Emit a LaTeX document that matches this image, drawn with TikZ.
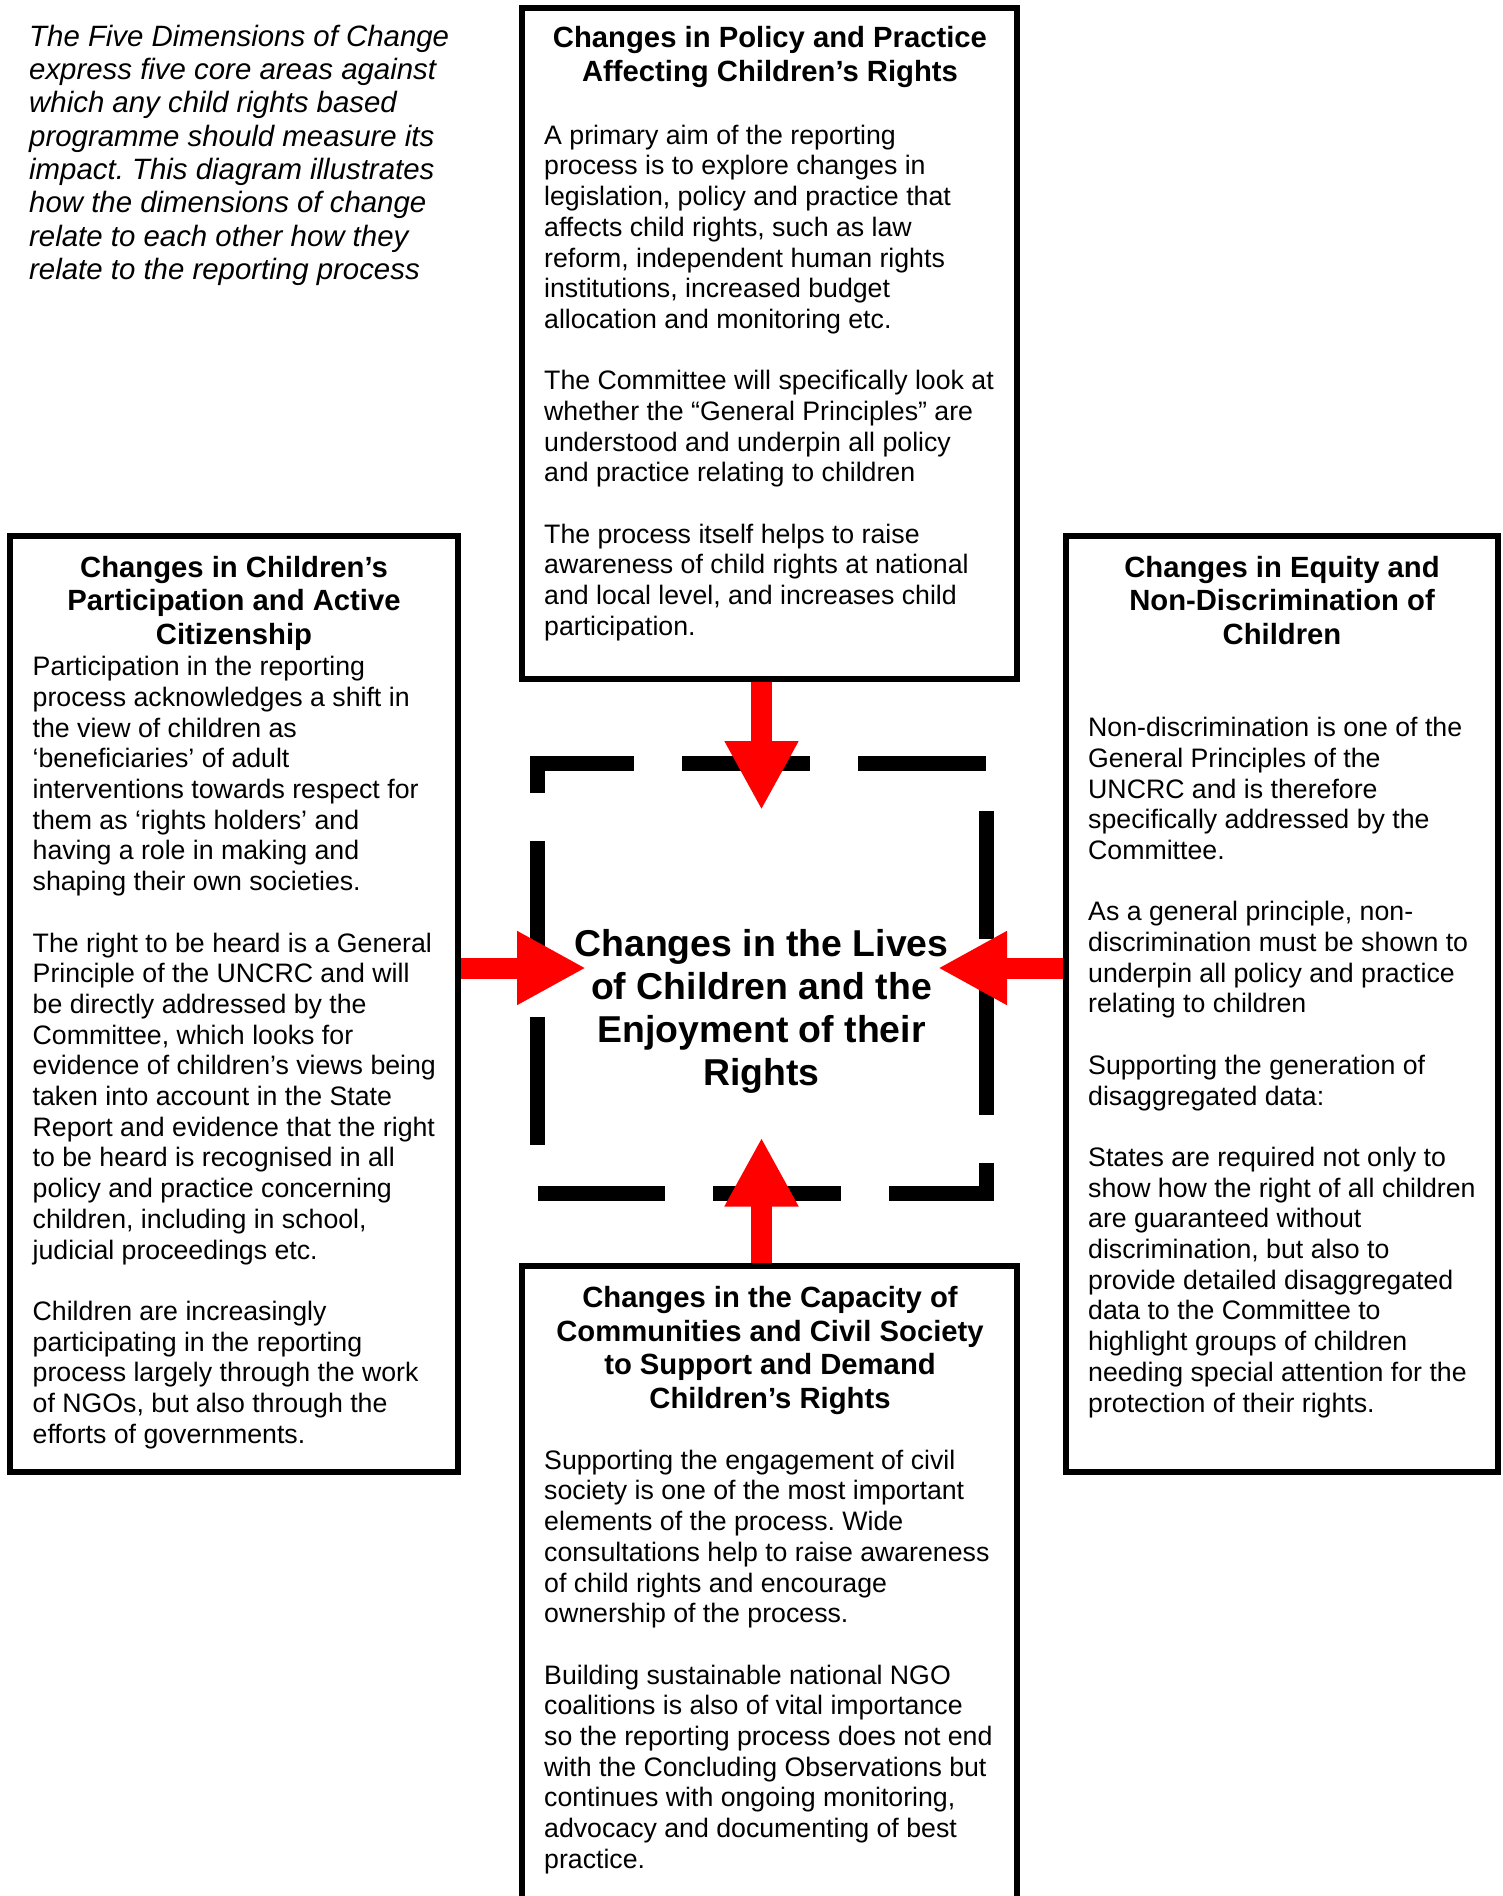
\documentclass[tikz,border=0pt]{standalone}
\usepackage{fontspec}
\setmainfont{Liberation Sans}
\usetikzlibrary{arrows.meta}
\frenchspacing

\begin{document}
\begin{tikzpicture}[x=1pt, y=-1pt,
  box/.style={draw=black, line width=6pt, rectangle, inner sep=0pt},
  bodytext/.style={anchor=north west, align=left, inner sep=0pt,
    font=\fontsize{26.7pt}{30.7pt}\selectfont},
  headtext/.style={anchor=north, align=center, inner sep=0pt,
    font=\fontsize{29.25pt}{33.7pt}\selectfont\bfseries},
  introtext/.style={anchor=north west, align=left, inner sep=0pt,
    font=\fontsize{29.4pt}{33.3pt}\selectfont\itshape},
  centretext/.style={anchor=north, align=center, inner sep=0pt,
    font=\fontsize{37.4pt}{42.8pt}\selectfont\bfseries},
  frame/.style={draw=black, line width=15pt, line cap=butt, line join=miter},
  redarrow/.style={draw=red, line width=21pt, line cap=butt,
    -{Triangle[length=69pt, width=69pt]}}
]
\useasboundingbox (0,0) rectangle (1503,1896);
\clip (0,0) rectangle (1503,1896);

% ---- introduction ----
\node[introtext] (intro) at (29,22.7) {\strut The Five Dimensions of Change\\
express five core areas against\\
which any child rights based\\
programme should measure its\\
impact. This diagram illustrates\\
how the dimensions of change\\
relate to each other how they\\
relate to the reporting process};

% ---- the four dimension boxes ----
\node[box, minimum width=495pt, minimum height=671pt] (policy) at (769.5,343.5) {};
\node[box, minimum width=448pt, minimum height=936pt] (participation) at (234,1004) {};
\node[box, minimum width=432pt, minimum height=936pt] (equity) at (1282,1004) {};
\node[box, minimum width=495pt, minimum height=694pt] (capacity) at (769.5,1613) {};

% policy and practice
\node[headtext] (policyhead) at (770,23.9) {\strut Changes in Policy and Practice\\
Affecting Children’s Rights};
\node[bodytext] (policybody) at (544,122.5) {\strut A primary aim of the reporting\\
process is to explore changes in\\
legislation, policy and practice that\\
affects child rights, such as law\\
reform, independent human rights\\
institutions, increased budget\\
allocation and monitoring etc.\\[30.7pt]
The Committee will specifically look at\\
whether the “General Principles” are\\
understood and underpin all policy\\
and practice relating to children\\[30.7pt]
The process itself helps to raise\\
awareness of child rights at national\\
and local level, and increases child\\
participation.};

% participation and active citizenship
\node[headtext] (participationhead) at (234,553.3) {\strut Changes in Children’s\\
Participation and Active\\
Citizenship};
\node[bodytext] (participationbody) at (32.5,654) {\strut Participation in the reporting\\
process acknowledges a shift in\\
the view of children as\\
‘beneficiaries’ of adult\\
interventions towards respect for\\
them as ‘rights holders’ and\\
having a role in making and\\
shaping their own societies.\\[30.7pt]
The right to be heard is a General\\
Principle of the UNCRC and will\\
be directly addressed by the\\
Committee, which looks for\\
evidence of children’s views being\\
taken into account in the State\\
Report and evidence that the right\\
to be heard is recognised in all\\
policy and practice concerning\\
children, including in school,\\
judicial proceedings etc.\\[30.7pt]
Children are increasingly\\
participating in the reporting\\
process largely through the work\\
of NGOs, but also through the\\
efforts of governments.};

% equity and non-discrimination
\node[headtext] (equityhead) at (1282,553.3) {\strut Changes in Equity and\\
Non-Discrimination of\\
Children};
\node[bodytext] (equitybody) at (1088,714.9) {\strut Non-discrimination is one of the\\
General Principles of the\\
UNCRC and is therefore\\
specifically addressed by the\\
Committee.\\[30.7pt]
As a general principle, non-\\
discrimination must be shown to\\
underpin all policy and practice\\
relating to children\\[30.7pt]
Supporting the generation of\\
disaggregated data:\\[30.7pt]
States are required not only to\\
show how the right of all children\\
are guaranteed without\\
discrimination, but also to\\
provide detailed disaggregated\\
data to the Committee to\\
highlight groups of children\\
needing special attention for the\\
protection of their rights.};

% capacity of communities and civil society
\node[headtext] (capacityhead) at (770,1283.7) {\strut Changes in the Capacity of\\
Communities and Civil Society\\
to Support and Demand\\
Children’s Rights};
\node[bodytext] (capacitybody) at (544,1447.5) {\strut Supporting the engagement of civil\\
society is one of the most important\\
elements of the process. Wide\\
consultations help to raise awareness\\
of child rights and encourage\\
ownership of the process.\\[30.7pt]
Building sustainable national NGO\\
coalitions is also of vital importance\\
so the reporting process does not end\\
with the Concluding Observations but\\
continues with ongoing monitoring,\\
advocacy and documenting of best\\
practice.};

% ---- central dashed frame (128 on, 48 off) ----
\draw[frame] (537.5,792.5) -- (537.5,763) -- (634,763);
\draw[frame] (682,763) -- (810,763);
\draw[frame] (858,763) -- (986,763);
\draw[frame] (986,811) -- (986,939);
\draw[frame] (986,987) -- (986,1115);
\draw[frame] (986,1163) -- (986,1193.5) -- (888.5,1193.5);
\draw[frame] (840.5,1193.5) -- (712.5,1193.5);
\draw[frame] (664.5,1193.5) -- (537.5,1193.5);
\draw[frame] (537.5,1144.5) -- (537.5,1016.5);
\draw[frame] (537.5,968.5) -- (537.5,840.5);

\node[centretext] (lives) at (761.5,926.5) {\strut Changes in the Lives\\
of Children and the\\
Enjoyment of their\\
Rights};

% ---- arrows into the frame ----
\coordinate (tipT) at (761.5,810);
\coordinate (tipB) at (761.5,1137.5);
\coordinate (tipL) at (586,968);
\coordinate (tipR) at (938,968);

\draw[redarrow] (tipT |- policy.south) -- (tipT);
\draw[redarrow] (tipB |- capacity.north) -- (tipB);
\draw[redarrow] (participation.east |- tipL) -- (tipL);
\draw[redarrow] (equity.west |- tipR) -- (tipR);
\end{tikzpicture}
\end{document}
